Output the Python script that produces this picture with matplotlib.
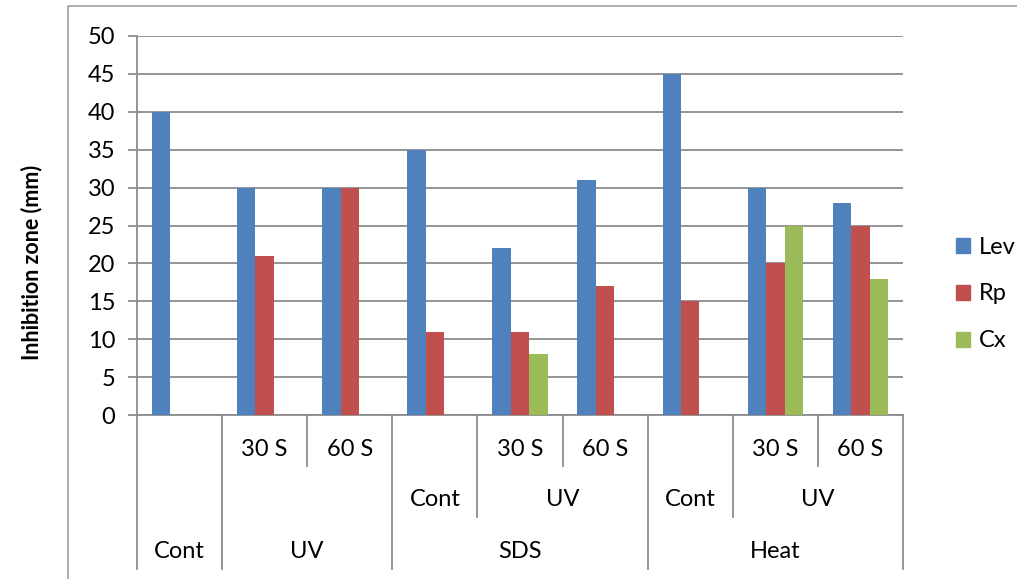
import numpy as np
import matplotlib
matplotlib.use("Agg")
import matplotlib.pyplot as plt
from matplotlib.patches import Rectangle
from matplotlib.lines import Line2D

plt.rcParams['font.family'] = ['Lato', 'DejaVu Sans']

# Innermost category labels (one per bar group)
level1 = ["", "30 S", "60 S", "", "30 S", "60 S", "", "30 S", "60 S"]
# Middle level: (label, first index, last index)
level2 = [("Cont", 3, 3), ("UV", 4, 5), ("Cont", 6, 6), ("UV", 7, 8)]
# Outer level
level3 = [("Cont", 0, 0), ("UV", 1, 2), ("SDS", 3, 5), ("Heat", 6, 8)]

series_names = ["Lev", "Rp", "Cx"]
lev = [40, 30, 30, 35, 22, 31, 45, 30, 28]
rp = [0, 21, 30, 11, 11, 17, 15, 20, 25]
cx = [0, 0, 0, 0, 8, 0, 0, 25, 18]
colors = ["#4F81BD", "#C0504D", "#9BBB59"]

yticks = [0, 5, 10, 15, 20, 25, 30, 35, 40, 45, 50]

W, H = 1017, 579
fig = plt.figure(figsize=(W / 100, H / 100), dpi=100)
ax = fig.add_axes([137 / W, 1 - 415 / H, (903 - 137) / W, (415 - 36) / H])

grid_c = "#8C8C8C"
fs = 17
n = len(lev)
x = np.arange(n)
bw = 0.217
for k, (vals, col, name) in enumerate(zip([lev, rp, cx], colors, series_names)):
    ax.bar(x + (k - 1) * bw, vals, width=bw, color=col, label=name, zorder=3)

ax.set_xlim(-0.5, n - 0.5)
ax.set_ylim(0, 50)
ax.set_yticks(yticks)
ax.set_yticklabels([str(v) for v in yticks], fontsize=fs)
ax.yaxis.grid(True, color=grid_c, linewidth=1.3, zorder=0)
ax.set_xticks([])
ax.tick_params(axis='y', length=6.5, width=1.3, color=grid_c, pad=9)
for s in ["top", "right"]:
    ax.spines[s].set_visible(False)
ax.spines["left"].set_color(grid_c)
ax.spines["left"].set_linewidth(1.3)
ax.spines["bottom"].set_color(grid_c)
ax.spines["bottom"].set_linewidth(1.3)

ax.set_ylabel("Inhibition zone (mm)", fontsize=15.5, fontweight="bold")
ax.yaxis.set_label_coords((42 - 137) / 766, (415 - 262) / 379)

# Multi-level category axis below the plot
tr = ax.get_xaxis_transform()
ph = 415 - 36
y1 = -(466 - 415) / ph
y2 = -(517 - 415) / ph
y3 = -(569 - 415) / ph


def vline(xpos, ybot):
    ax.add_line(Line2D([xpos, xpos], [0, ybot], transform=tr, color=grid_c,
                       linewidth=1.3, clip_on=False))


# outer group boundaries run the full depth, middle ones two rows, the rest one row
outer_bounds = set()
for _, a, b in level3:
    outer_bounds.add(a - 0.5)
    outer_bounds.add(b + 0.5)
mid_bounds = set()
for _, a, b in level2:
    mid_bounds.add(a - 0.5)
    mid_bounds.add(b + 0.5)
for i in range(n + 1):
    xb = i - 0.5
    if xb in outer_bounds:
        vline(xb, y3)
    elif xb in mid_bounds:
        vline(xb, y2)
    else:
        vline(xb, y1)

for i, lab in enumerate(level1):
    if lab:
        ax.text(i, -(449 - 415) / ph, lab, transform=tr, ha="center", va="center", fontsize=fs)
for lab, a, b in level2:
    ax.text((a + b) / 2, -(500 - 415) / ph, lab, transform=tr, ha="center", va="center", fontsize=fs)
for lab, a, b in level3:
    ax.text((a + b) / 2, -(551 - 415) / ph, lab, transform=tr, ha="center", va="center", fontsize=fs)

# Legend
handles = [Rectangle((0, 0), 1, 1, color=c) for c in colors]
fig.legend(handles, series_names, loc="center left", bbox_to_anchor=(935 / W, 1 - 294 / H),
           frameon=False, fontsize=fs, handlelength=0.6, handleheight=0.6,
           labelspacing=1.1, handletextpad=0.35)

# Outer border
fig.add_artist(Line2D([68 / W, 68 / W, 1.0], [0, 1 - 6 / H, 1 - 6 / H],
                      transform=fig.transFigure, color="#A0A0A0", linewidth=1.2))

fig.savefig("out.png", dpi=100)
